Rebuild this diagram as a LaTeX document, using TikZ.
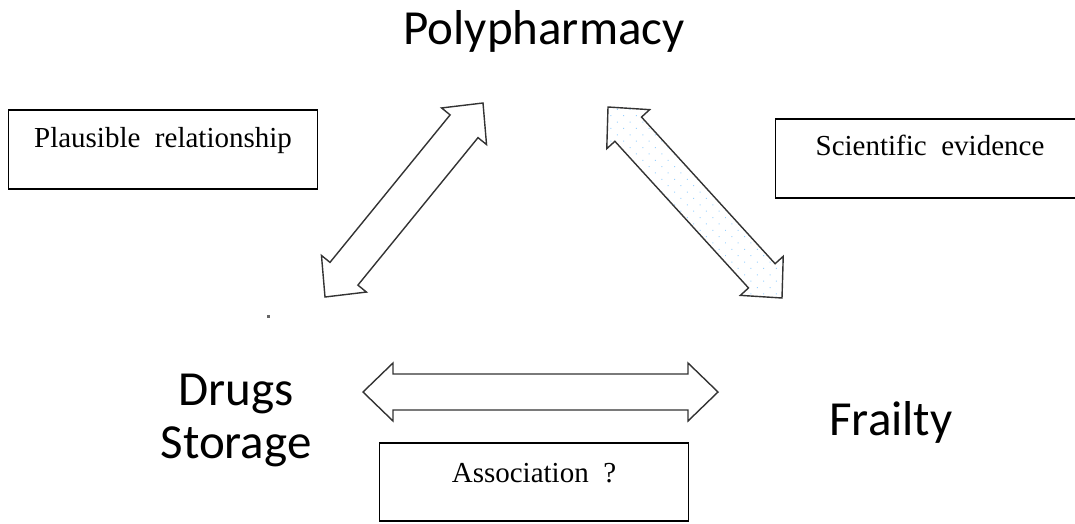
\documentclass[tikz,border=0pt]{standalone}
\usepackage{fontspec}
\setmainfont{Liberation Serif}
\newfontfamily\labelfont{Carlito}
\usetikzlibrary{calc,patterns.meta}
\def\ahead{30pt}
\def\awide{29pt}
\def\ashaft{18pt}
\def\blockarrow[#1](#2)(#3){\draw[#1] (#2) -- ($(#2)!\ahead!(#3)!\awide!90:(#3)$) -- ($(#2)!\ahead!(#3)!\ashaft!90:(#3)$) -- ($(#3)!\ahead!(#2)!\ashaft!-90:(#2)$) -- ($(#3)!\ahead!(#2)!\awide!-90:(#2)$) -- (#3) -- ($(#3)!\ahead!(#2)!\awide!90:(#2)$) -- ($(#3)!\ahead!(#2)!\ashaft!90:(#2)$) -- ($(#2)!\ahead!(#3)!\ashaft!-90:(#3)$) -- ($(#2)!\ahead!(#3)!\awide!-90:(#3)$) -- cycle;}
\tikzset{
	bigtext/.style={font=\labelfont\fontsize{49}{53}\selectfont, inner sep=0pt},
	labelbox/.style={draw, line width=1.3pt, inner sep=0pt, minimum width=309pt, font=\fontsize{29}{32}\selectfont},
	blockline/.style={line width=1.4pt, draw=black!80, line join=miter, fill=white}
}

\begin{document}
\begin{tikzpicture}[x=1pt, y=-1pt]
			%%%%% START %%%%%
			\useasboundingbox (0, 0) rectangle (1075, 523);
			
			\node[bigtext, anchor=base] (poly) at (544, 44) {Polypharmacy};
			\node[bigtext, anchor=base, align=center] (drugs) at (236, 458) {Drugs\\Storage};
			\node[bigtext, anchor=base] (frail) at (891, 435) {Frailty};
			
			\node[labelbox, anchor=base, text height=37pt, text depth=42pt] (plaus) at (163, 147) {Plausible\ \ relationship};
			\node[labelbox, anchor=base, text height=36pt, text depth=43pt] (sci) at (930, 155) {Scientific\ \ evidence};
			\node[labelbox, anchor=base, text height=39pt, text depth=39pt] (assoc) at (534, 482) {Association\ \ ?};
			
			\coordinate (ds-up) at (325, 297);
			\coordinate (pp-left) at (483, 103);
			\coordinate (pp-right) at (608, 107);
			\coordinate (fr-up) at (782, 298);
			\coordinate (ds-right) at (363, 392);
			\coordinate (fr-left) at (718, 392);
			
			\blockarrow[blockline](ds-up)(pp-left);
			\blockarrow[blockline, pattern={Dots[distance=9pt, radius=0.7pt, angle=45]}, pattern color=blue!45!cyan!40](pp-right)(fr-up);
			\blockarrow[blockline](ds-right)(fr-left);
			
			\fill[black!60] (266.5, 314.5) rectangle (269.5, 317.5);
			%%%%% END %%%%%
		\end{tikzpicture}
\end{document}
